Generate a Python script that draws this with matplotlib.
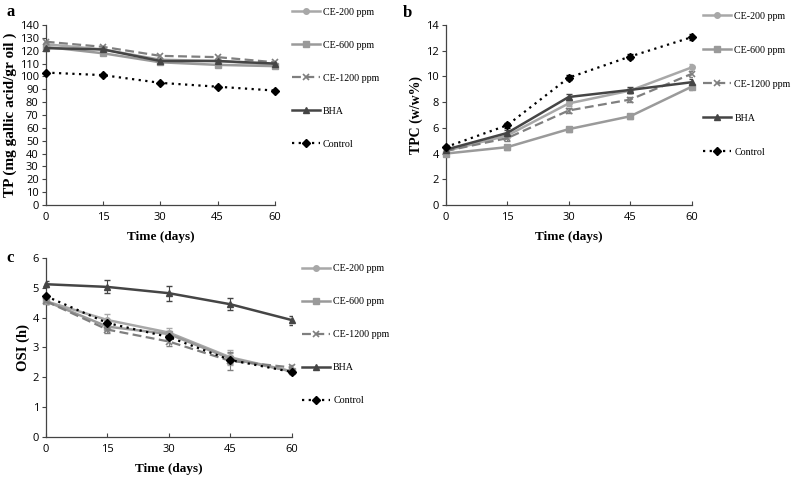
import matplotlib
matplotlib.use("Agg")
import matplotlib.pyplot as plt
import numpy as np

days = [0, 15, 30, 45, 60]
labels = ["CE-200 ppm", "CE-600 ppm", "CE-1200 ppm", "BHA", "Control"]

# Panel a: TP
tp_ce200 = [125, 121, 113, 112, 109]
tp_ce600 = [123, 118, 111, 109, 108]
tp_ce1200 = [127, 123, 116, 115, 111]
tp_bha = [122, 121, 112, 112, 110]
tp_control = [103, 101, 95, 92, 89]

# Panel b: TPC
tpc_ce200 = [4.2, 5.4, 7.9, 8.9, 10.7]
tpc_ce600 = [4.0, 4.5, 5.9, 6.9, 9.2]
tpc_ce1200 = [4.2, 5.2, 7.35, 8.2, 10.2]
tpc_bha = [4.3, 5.6, 8.4, 8.95, 9.55]
tpc_control = [4.5, 6.2, 9.9, 11.55, 13.05]
tpc_err = [0.15, 0.2, 0.2, 0.2, 0.25]

# Panel c: OSI
osi_ce200 = [4.55, 3.92, 3.5, 2.67, 2.2]
osi_ce600 = [4.55, 3.7, 3.45, 2.63, 2.2]
osi_ce1200 = [4.55, 3.6, 3.2, 2.55, 2.33]
osi_bha = [5.12, 5.03, 4.82, 4.45, 3.92]
osi_control = [4.72, 3.82, 3.35, 2.58, 2.18]
osi_err_ce200 = [0.1, 0.2, 0.15, 0.25, 0.08]
osi_err_ce600 = [0.1, 0.1, 0.1, 0.2, 0.08]
osi_err_ce1200 = [0.1, 0.1, 0.15, 0.3, 0.08]
osi_err_bha = [0.1, 0.22, 0.25, 0.2, 0.15]
osi_err_control = [0.05, 0.05, 0.05, 0.05, 0.05]

styles = [
    dict(color="#a8a8a8", marker="o", ls="-", lw=1.8, ms=4),
    dict(color="#9a9a9a", marker="s", ls="-", lw=1.8, ms=4.5),
    dict(color="#7f7f7f", marker="x", ls=(0, (4, 2)), lw=1.6, ms=5, mew=1.2),
    dict(color="#454545", marker="^", ls="-", lw=1.8, ms=4),
    dict(color="black", marker="D", ls=(0, (1, 2)), lw=1.6, ms=4.5),
]

serif = ["Liberation Serif", "DejaVu Serif"]
sans = ["Open Sans", "DejaVu Sans"]

fig = plt.figure(figsize=(7.93, 4.78), dpi=100)

def setup(ax, ymax, ystep, ylabel, ysize):
    ax.set_xlim(0, 60)
    ax.set_ylim(0, ymax)
    ax.set_xticks(days)
    ax.set_yticks(np.arange(0, ymax + ystep / 2, ystep))
    for s in ["top", "right"]:
        ax.spines[s].set_visible(False)
    for s in ["left", "bottom"]:
        ax.spines[s].set_color("#444444")
        ax.spines[s].set_linewidth(0.9)
    ax.tick_params(axis="x", direction="in", length=3, color="#444444", pad=5)
    ax.tick_params(axis="y", direction="out", length=3, color="#444444", pad=2)
    for t in ax.get_xticklabels() + ax.get_yticklabels():
        t.set_family(sans)
        t.set_fontsize(8)
    ax.set_xlabel("Time (days)", family=serif, fontweight="bold", fontsize=9.5, labelpad=6)
    ax.set_ylabel(ylabel, family=serif, fontweight="bold", fontsize=ysize, labelpad=2)

def add_legend(handles, x, y, spacing):
    fig.legend(handles, labels, loc="upper left", bbox_to_anchor=(x, y),
               bbox_transform=fig.transFigure, frameon=False,
               prop=dict(family=serif, size=7.2), labelspacing=spacing,
               handlelength=2.8, handletextpad=0.3, borderaxespad=0, borderpad=0)

# Panel a
axa = fig.add_axes([0.0576, 0.5711, 0.2892, 0.3766])
series_a = [tp_ce200, tp_ce600, tp_ce1200, tp_bha, tp_control]
ha = []
for vals, st in zip(series_a, styles):
    h, = axa.plot(days, vals, clip_on=False, zorder=3, **st)
    ha.append(h)
setup(axa, 140, 10, "TP (mg gallic acid/gr oil )", 11)
add_legend(ha, 0.368, 0.984, 2.4)
fig.text(0.008, 0.975, "a", family=serif, fontweight="bold", fontsize=12, va="center")

# Panel b
axb = fig.add_axes([0.562, 0.5711, 0.3102, 0.3766])
series_b = [tpc_ce200, tpc_ce600, tpc_ce1200, tpc_bha, tpc_control]
hb = []
for vals, st in zip(series_b, styles):
    axb.errorbar(days, vals, yerr=tpc_err, fmt="none", ecolor=st["color"], elinewidth=0.8, capsize=2, zorder=2)
    h, = axb.plot(days, vals, clip_on=False, zorder=3, **st)
    hb.append(h)
setup(axb, 14, 2, "TPC (w/w%)", 10)
add_legend(hb, 0.887, 0.975, 2.5)
fig.text(0.508, 0.972, "b", family=serif, fontweight="bold", fontsize=12, va="center")

# Panel c
axc = fig.add_axes([0.058, 0.0858, 0.3098, 0.3745])
series_c = [osi_ce200, osi_ce600, osi_ce1200, osi_bha, osi_control]
errs_c = [osi_err_ce200, osi_err_ce600, osi_err_ce1200, osi_err_bha, osi_err_control]
hc = []
for vals, err, st in zip(series_c, errs_c, styles):
    axc.errorbar(days, vals, yerr=err, fmt="none", ecolor=st["color"], elinewidth=0.8, capsize=2.5, zorder=2)
    h, = axc.plot(days, vals, clip_on=False, zorder=3, **st)
    hc.append(h)
setup(axc, 6, 1, "OSI (h)", 10.5)
add_legend(hc, 0.381, 0.447, 2.4)
fig.text(0.008, 0.46, "c", family=serif, fontweight="bold", fontsize=12, va="center")

fig.savefig("out.png", dpi=100)
